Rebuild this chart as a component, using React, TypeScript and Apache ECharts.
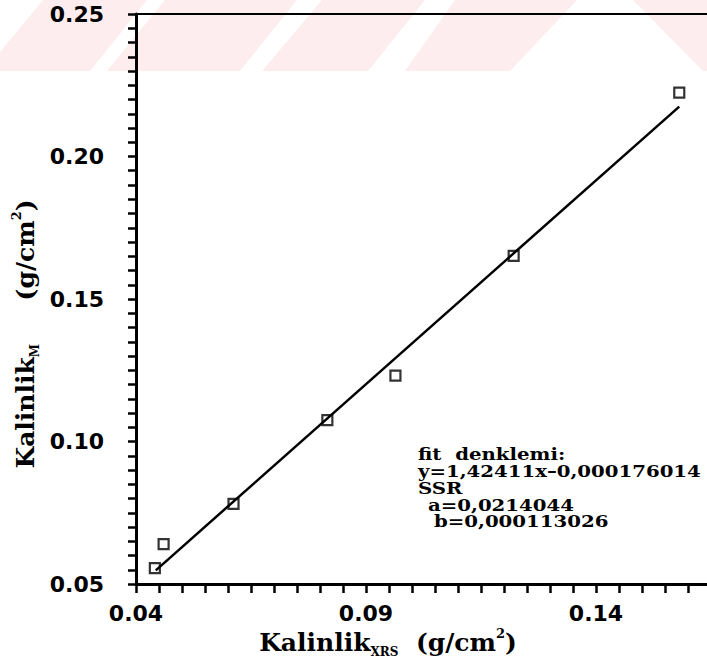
import React, { useEffect, useRef } from "react";
import * as echarts from "echarts";

// Data
const xrsThickness = [0.0441, 0.046, 0.0612, 0.0816, 0.0964, 0.1221, 0.1581];
const mThickness = [0.0556, 0.064, 0.0781, 0.1075, 0.1231, 0.1651, 0.2224];
const fitX = [0.0443, 0.1581];
const fitY = [0.0548, 0.2175];
const xMajorTicks = [0.04, 0.09, 0.14];
const yMajorTicks = [0.05, 0.1, 0.15, 0.2, 0.25];
const annotationLines = [
  "fit  denklemi:",
  "y=1,42411x–0,000176014",
  "SSR",
  "a=0,0214044",
  "b=0,000113026",
];

const X_MIN = 0.04;
const X_MAX = 0.165; // frame runs to the right edge of the picture
const Y_MIN = 0.05;
const Y_MAX = 0.25;
const MINOR_STEP = 0.005;

const PINK = "#fdedef";

function tickValues(min: number, max: number, step: number) {
  const out: number[] = [];
  const n = Math.round((max - min) / step);
  for (let i = 0; i <= n; i++) out.push(Number((min + i * step).toFixed(4)));
  return out;
}

export default function App() {
  const ref = useRef<HTMLDivElement>(null);

  useEffect(() => {
    if (!ref.current) return;
    const chart = echarts.init(ref.current, null, { renderer: "svg" });

    const tickFont = {
      fontFamily: "DejaVu Sans",
      fontWeight: "bold" as const,
      fontSize: 22,
      color: "#000",
    };
    const serif = "DejaVu Serif";
    const titleRich = {
      t: { fontFamily: serif, fontWeight: "bold", fontSize: 25, lineHeight: 31, color: "#000" },
      s: { fontFamily: serif, fontWeight: "bold", fontSize: 12, lineHeight: 12, verticalAlign: "bottom", color: "#000" },
      p: { fontFamily: serif, fontWeight: "bold", fontSize: 13, lineHeight: 13, verticalAlign: "top", color: "#000" },
    };

    const annX = [418, 418, 418, 428, 434];
    const annY = [454, 471, 488, 505, 521];

    const watermarkWhite = [
      [[0, 0], [43, 0], [0, 52]],
      [[147, 0], [165, 0], [107, 71], [90, 71]],
      [[297, 0], [322, 0], [262, 71], [240, 71]],
      [[425, 0], [455, 0], [405, 71], [368, 71]],
      [[577, 0], [633, 0], [703, 71], [510, 71]],
    ];

    const lineStyle = { color: "#000", width: 2.5 };
    const points = xrsThickness.map((x, i) => [x, mThickness[i]]);
    const xAllTicks = tickValues(X_MIN, X_MAX, MINOR_STEP);
    const yAllTicks = tickValues(Y_MIN, Y_MAX, MINOR_STEP);

    const option: any = {
      animation: false,
      backgroundColor: "#fff",
      grid: {
        left: 136,
        top: 14,
        right: -4,
        bottom: 80,
        outerBoundsMode: "none",
        show: true,
        borderColor: "#000",
        borderWidth: 2,
        backgroundColor: "transparent",
      },
      xAxis: {
        type: "value",
        min: X_MIN,
        max: X_MAX,
        position: "bottom",
        splitLine: { show: false },
        axisLine: { show: true, lineStyle: { color: "#000", width: 3 } },
        axisTick: { show: true, customValues: xAllTicks, length: 9, lineStyle },
        axisLabel: {
          show: true,
          customValues: xMajorTicks,
          margin: 18,
          formatter: (v: number) => v.toFixed(2),
          ...tickFont,
        },
      },
      yAxis: {
        type: "value",
        min: Y_MIN,
        max: Y_MAX,
        position: "left",
        splitLine: { show: false },
        axisLine: { show: true, lineStyle: { color: "#000", width: 3 } },
        axisTick: { show: true, customValues: yAllTicks, length: 8, lineStyle },
        axisLabel: {
          show: true,
          customValues: yMajorTicks,
          margin: 32,
          formatter: (v: number) => v.toFixed(2),
          ...tickFont,
        },
      },
      series: [
        {
          type: "line",
          data: fitX.map((x, i) => [x, fitY[i]]),
          symbol: "none",
          lineStyle: { color: "#000", width: 2.5 },
          z: 2,
        },
        {
          type: "scatter",
          data: points,
          symbol: "rect",
          symbolSize: 10,
          itemStyle: { color: "transparent", borderColor: "#000", borderWidth: 2.2 },
          z: 3,
        },
      ],
      graphic: {
        elements: [
          {
            type: "rect",
            z: -10,
            shape: { x: 0, y: 0, width: 707, height: 71 },
            style: { fill: PINK },
            silent: true,
          },
          ...watermarkWhite.map((pts) => ({
            type: "polygon",
            z: -9,
            shape: { points: pts },
            style: { fill: "#fff" },
            silent: true,
          })),
          {
            type: "text",
            x: 388,
            y: 642,
            style: {
              text: "{t|Kalinlik}{s|XRS}{t|  (g/cm}{p|2}{t|)}",
              rich: titleRich,
              align: "center",
              verticalAlign: "middle",
            },
          },
          {
            type: "text",
            x: 25,
            y: 334,
            rotation: Math.PI / 2,
            style: {
              text: "{t|Kalinlik}{s|M}{t|     (g/cm}{p|2}{t|)}",
              rich: titleRich,
              align: "center",
              verticalAlign: "middle",
            },
          },
          ...annotationLines.map((txt, i) => ({
            type: "text",
            x: annX[i],
            y: annY[i],
            scaleX: 1.16,
            style: {
              text: txt,
              fontFamily: serif,
              fontWeight: "bold",
              fontSize: 17,
              lineHeight: 17,
              fill: "#000",
              align: "left",
              verticalAlign: "middle",
            },
          })),
        ],
      },
    };

    chart.setOption(option);
    return () => chart.dispose();
  }, []);

  return (
    <div
      ref={ref}
      style={{ position: "absolute", left: 0, top: 0, width: 707, height: 664 }}
    />
  );
}
